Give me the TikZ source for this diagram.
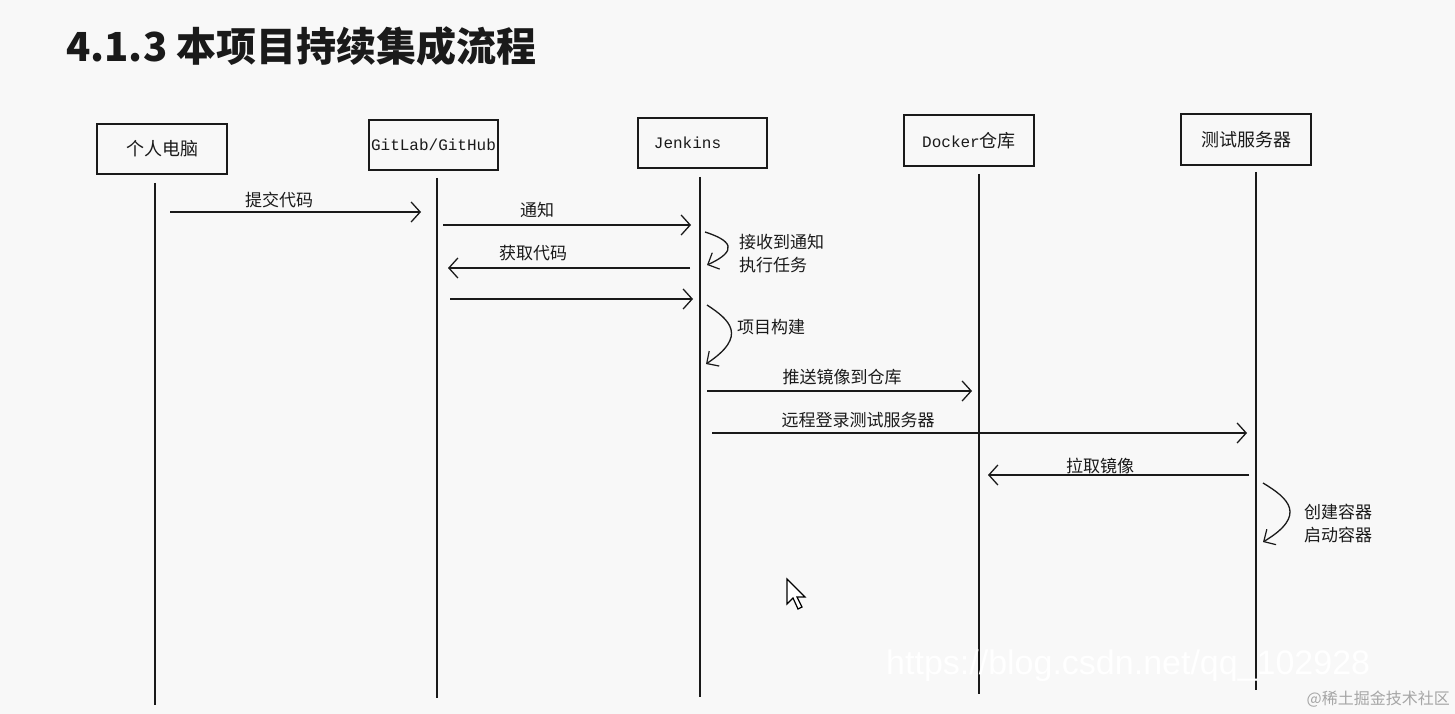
\documentclass[tikz,border=0pt]{standalone}
\usepackage{fontspec}
\usetikzlibrary{arrows.meta}
\setmainfont{Noto Sans CJK SC}
\newfontfamily\cjk{Noto Sans CJK SC}
\newfontfamily\mono{Liberation Mono}
\newfontfamily\wmfont{Liberation Sans}
\definecolor{bg}{HTML}{F8F8F8}
\definecolor{ink}{HTML}{1A1A1A}
\begin{document}
\begin{tikzpicture}[x=1pt,y=-1pt,
  actor/.style={draw=ink, line width=1.8pt, minimum width=130pt, minimum height=50pt, inner sep=0pt, font=\cjk\fontsize{18}{20}\selectfont, text=ink},
  life/.style={draw=ink, line width=1.6pt},
  msg/.style={draw=ink, line width=1.5pt, -{Straight Barb[length=9pt,width=20pt,line width=1.3pt]}},
  selfmsg/.style={draw=ink, line width=1.3pt, -{Straight Barb[length=9pt,width=18pt,line width=1.2pt]}},
  lbl/.style={font=\cjk\fontsize{17}{23}\selectfont, inner sep=0pt, text=ink},
  monotxt/.style={font=\mono\fontsize{16}{18}\selectfont}]
\useasboundingbox[fill=bg] (0,0) rectangle (1455,714);

% title
\node[anchor=west, inner sep=0pt, text=ink, font=\cjk\bfseries\fontsize{40}{44}\selectfont] (title) at (66,46) {4.1.3 本项目持续集成流程};

% actors
\node[actor] (pc) at (162,149) {个人电脑};
\node[actor, minimum width=129pt, font=\mono\fontsize{16}{18}\selectfont] (git) at (433.5,145) {GitLab/GitHub};
\node[actor, minimum width=129pt, font=\mono\fontsize{16}{18}\selectfont] (jen) at (702.5,143) {Jenkins\hspace*{30pt}};
\node[actor, minimum height=51pt] (dock) at (969,140.5) {{\mono\fontsize{16}{18}\selectfont Docker}仓库};
\node[actor, minimum height=51pt] (test) at (1246,139.5) {测试服务器};

% lifelines
\coordinate (pcT) at (155,183);  \coordinate (pcB) at (155,705);
\coordinate (gitT) at (437,178); \coordinate (gitB) at (437,698);
\coordinate (jenT) at (700,177); \coordinate (jenB) at (700,697);
\coordinate (dockT) at (979,174); \coordinate (dockB) at (979,694);
\coordinate (testT) at (1256,172); \coordinate (testB) at (1256,690);
\draw[life] (pcT) -- (pcB);
\draw[life] (gitT) -- (gitB);
\draw[life] (jenT) -- (jenB);
\draw[life] (dockT) -- (dockB);
\draw[life] (testT) -- (testB);

% messages
\coordinate (m1a) at (170,212); \coordinate (m1b) at (421,212);
\coordinate (m2a) at (443,225); \coordinate (m2b) at (691,225);
\coordinate (m3a) at (690,268); \coordinate (m3b) at (448,268);
\coordinate (m4a) at (450,299); \coordinate (m4b) at (693,299);
\coordinate (m5a) at (707,391); \coordinate (m5b) at (972,391);
\coordinate (m6a) at (712,433); \coordinate (m6b) at (1247,433);
\coordinate (m7a) at (1249,475); \coordinate (m7b) at (988,475);
\draw[msg] (m1a) -- (m1b);
\draw[msg] (m2a) -- (m2b);
\draw[msg] (m3a) -- (m3b);
\draw[msg] (m4a) -- (m4b);
\draw[msg] (m5a) -- (m5b);
\draw[msg] (m6a) -- (m6b);
\draw[msg] (m7a) -- (m7b);

\node[lbl] (l1) at (279,200) {提交代码};
\node[lbl] (l2) at (537,210) {通知};
\node[lbl] (l3) at (533,253) {获取代码};
\node[lbl] (l5) at (842,377) {推送镜像到仓库};
\node[lbl] (l6) at (858,420) {远程登录测试服务器};
\node[lbl] (l7) at (1100,466) {拉取镜像};

% self messages
\coordinate (s1a) at (705,232); \coordinate (s1b) at (707,265);
\coordinate (s2a) at (707,305); \coordinate (s2b) at (706,364);
\coordinate (s3a) at (1263,483); \coordinate (s3b) at (1263,542);
\draw[selfmsg] (s1a) .. controls (730,240) and (740,250) .. (s1b);
\draw[selfmsg] (s2a) .. controls (730,320) and (748,336) .. (s2b);
\draw[selfmsg] (s3a) .. controls (1288,498) and (1308,515) .. (s3b);
\node[lbl, anchor=west, align=left] (ls1) at (739,254) {接收到通知\\执行任务};
\node[lbl, anchor=west] (ls2) at (737,327) {项目构建};
\node[lbl, anchor=west, align=left] (ls3) at (1304,523) {创建容器\\启动容器};

% mouse cursor
\draw[draw=black, fill=white, line width=1.2pt, line join=miter]
  (787,579) -- (787,604) -- (793,598) -- (798,609) -- (802,607) -- (797,597) -- (805,597) -- cycle;

% watermarks
\node[anchor=west, inner sep=0pt, text=white, font=\wmfont\fontsize{34}{38}\selectfont] (wm1) at (886,666) {https://blog.csdn.net/qq\_102928};
\node[anchor=east, inner sep=0pt, text=gray!70, font=\cjk\fontsize{16}{18}\selectfont] (wm2) at (1450,699) {@稀土掘金技术社区};
\end{tikzpicture}
\end{document}
